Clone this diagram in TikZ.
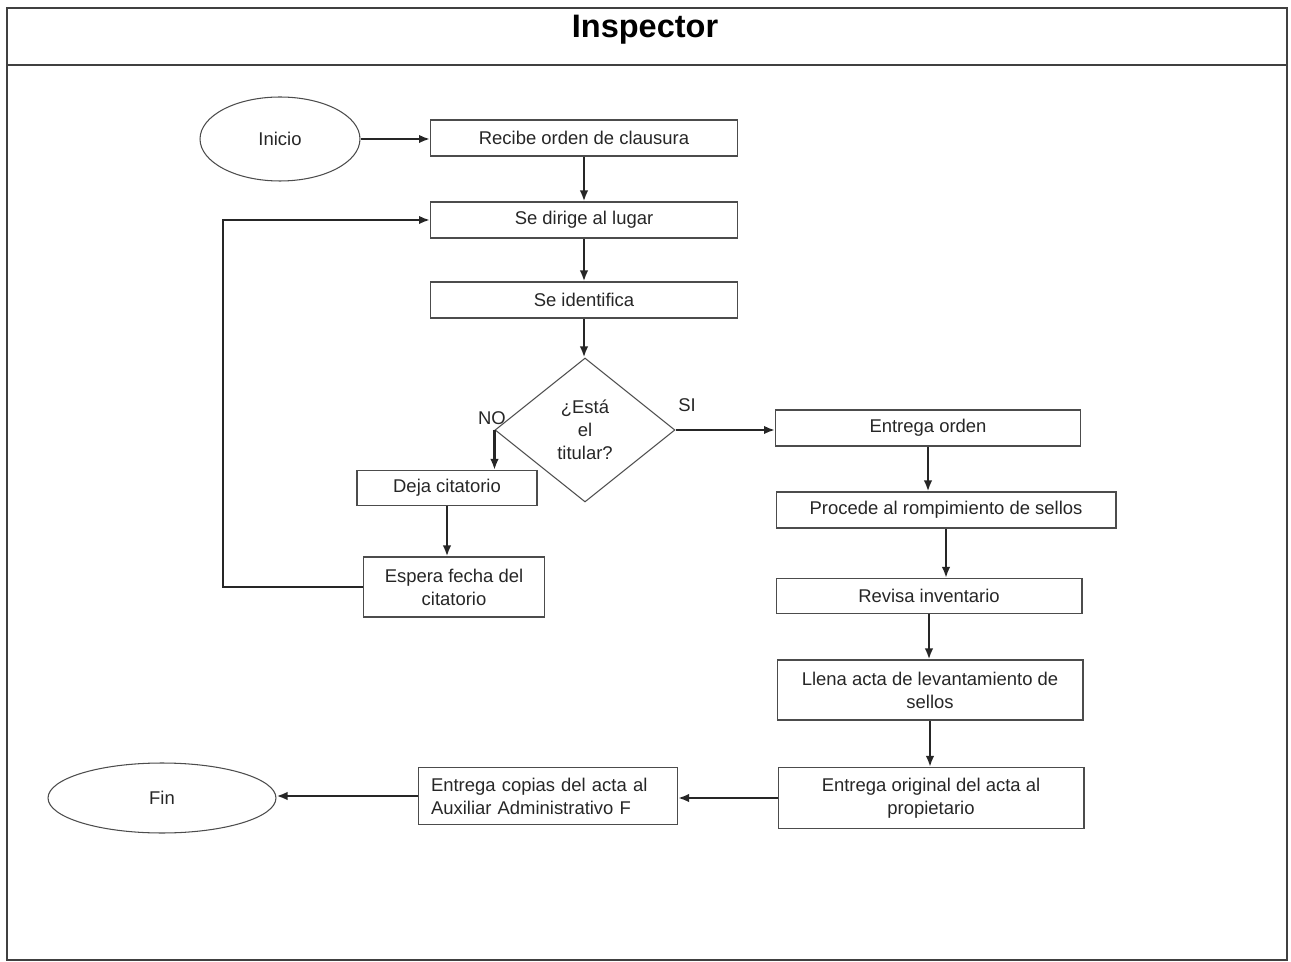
\documentclass[tikz,border=0pt]{standalone}
\usepackage{fontspec}
\setmainfont{Liberation Sans}
\usetikzlibrary{arrows.meta,positioning,shapes.geometric}

\begin{document}
\begin{tikzpicture}[x=0.02cm, y=-0.02cm, >={Latex[length=2.2mm, width=1.7mm]},
	every node/.style={font=\fontsize{10.5}{13}\selectfont, text=black!85},
	paso/.style={draw=black!70, line width=0.6pt, inner sep=2pt, align=center},
	extremo/.style={draw=black!70, line width=0.6pt, ellipse, inner sep=0pt},
	flecha/.style={->, line width=1.6pt, black!85}]
	\useasboundingbox (0,0) rectangle (1291,962);
	\draw[black!75, line width=0.8pt] (7,8) rectangle (1287,960);
	\draw[black!75, line width=0.8pt] (7,65) -- (1287,65);
	\node[font=\fontsize{18.5}{22}\selectfont\bfseries, text=black] (titulo) at (645,30) {Inspector};

	\node[extremo, minimum width=3.2cm, minimum height=1.68cm] (inicio) at (280,139) {Inicio};
	\node[paso, minimum width=6.14cm, minimum height=0.72cm] (recibe) at (584,138) {Recibe orden de clausura};
	\node[paso, minimum width=6.14cm, minimum height=0.72cm] (dirige) at (584,220) {Se dirige al lugar};
	\node[paso, minimum width=6.14cm, minimum height=0.72cm] (identifica) at (584,300) {Se identifica};
	\node[draw=black!70, line width=0.6pt, diamond, minimum width=3.6cm, minimum height=2.88cm, inner sep=0pt, align=center] (titular) at (585,430) {¿Está\\el\\titular?};
	\node (no) at (492,418) {NO};
	\node (si) at (687,405) {SI};
	\node[paso, minimum width=3.6cm, minimum height=0.7cm] (deja) at (447,488) {Deja citatorio};
	\node[paso, minimum width=3.62cm, minimum height=1.2cm] (espera) at (454,587) {Espera fecha del\\citatorio};

	\node[paso, minimum width=6.1cm, minimum height=0.72cm] (entrega) at (928,428) {Entrega orden};
	\node[paso, minimum width=6.8cm, minimum height=0.72cm] (procede) at (946,510) {Procede al rompimiento de sellos};
	\node[paso, minimum width=6.12cm, minimum height=0.7cm] (revisa) at (929,596) {Revisa inventario};
	\node[paso, minimum width=6.12cm, minimum height=1.2cm] (llena) at (930,690) {Llena acta de levantamiento de\\sellos};
	\node[paso, minimum width=6.12cm, minimum height=1.22cm] (original) at (931,798) {Entrega original del acta al\\propietario};
	\node[paso, text width=4.68cm, inner xsep=0.25cm, minimum height=1.14cm, align=left] (copias) at (548,796) {Entrega copias del acta al\\Auxiliar Administrativo F};
	\node[extremo, minimum width=4.56cm, minimum height=1.4cm] (fin) at (162,798) {Fin};

	% conectores
	\foreach \a/\b in {recibe/dirige, dirige/identifica, identifica/titular, deja/espera,
		entrega/procede, procede/revisa, revisa/llena, llena/original} {
		\draw[flecha] (\a.south) -- (\a.south |- \b.north);
	}
	\draw[flecha] (inicio.east) -- (inicio.east -| recibe.west);
	\draw[flecha] (titular.east) -- (titular.east -| entrega.west);
	\draw[flecha] (titular.west) -- (titular.west |- deja.north);
	\draw[flecha] (espera.west) -- ++(-140,0) |- (dirige.west);
	\draw[flecha] (original.west) -- (original.west -| copias.east);
	\draw[flecha] (copias.west) -- (copias.west -| fin.east);
\end{tikzpicture}
\end{document}
